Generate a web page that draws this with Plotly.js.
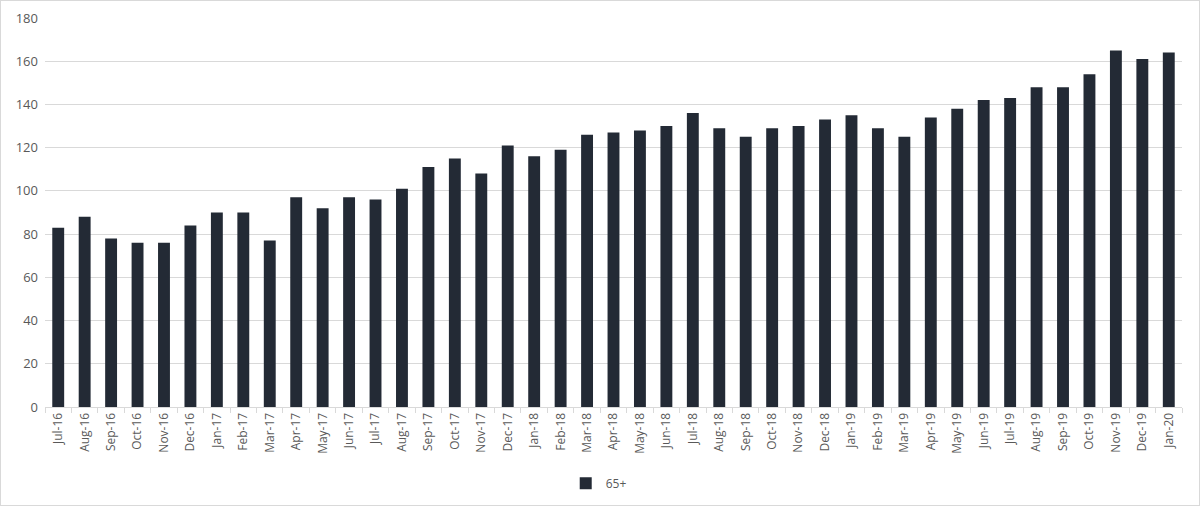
<!DOCTYPE html>
<html>
<head>
<meta charset="utf-8">
<script src="https://cdn.plot.ly/plotly-3.0.1.min.js"></script>
<style>
  html, body { margin: 0; padding: 0; background: #fff; }
  #chart { width: 1200px; height: 506px; box-sizing: border-box; border: 1px solid #d9d9d9; }
</style>
</head>
<body>
<div id="chart"></div>
<script>
const categories = ["Jul-16","Aug-16","Sep-16","Oct-16","Nov-16","Dec-16","Jan-17","Feb-17","Mar-17","Apr-17","May-17","Jun-17","Jul-17","Aug-17","Sep-17","Oct-17","Nov-17","Dec-17","Jan-18","Feb-18","Mar-18","Apr-18","May-18","Jun-18","Jul-18","Aug-18","Sep-18","Oct-18","Nov-18","Dec-18","Jan-19","Feb-19","Mar-19","Apr-19","May-19","Jun-19","Jul-19","Aug-19","Sep-19","Oct-19","Nov-19","Dec-19","Jan-20"];
const values65 = [83,88,78,76,76,84,90,90,77,97,92,97,96,101,111,115,108,121,116,119,126,127,128,130,136,129,125,129,130,133,135,129,125,134,138,142,143,148,148,154,165,161,164];
const seriesName = "65+";
const yTicks = [0,20,40,60,80,100,120,140,160,180];

const trace = {
  type: "bar",
  x: categories,
  y: values65,
  name: seriesName,
  marker: { color: "#232a35", line: { width: 0 } },
  showlegend: true,
  hoverinfo: "x+y"
};

const layout = {
  width: 1198,
  height: 504,
  margin: { l: 44, r: 17, t: 17, b: 98, autoexpand: false },
  paper_bgcolor: "#ffffff",
  plot_bgcolor: "#ffffff",
  font: { family: "Open Sans, Liberation Sans, sans-serif", color: "#595959", size: 12 },
  bargap: 0.55,
  xaxis: {
    type: "category",
    tickangle: -90,
    tickfont: { size: 12, color: "#595959" },
    showgrid: false,
    showline: true,
    linecolor: "#d9d9d9",
    linewidth: 1,
    ticks: "outside",
    tickson: "boundaries",
    ticklen: 5,
    tickcolor: "#d9d9d9",
    automargin: false
  },
  yaxis: {
    range: [0, 180],
    tickvals: yTicks,
    ticktext: yTicks.map(String),
    tickfont: { size: 13, color: "#595959" },
    showgrid: true,
    gridcolor: "#d9d9d9",
    gridwidth: 1,
    zeroline: false,
    showline: false,
    ticks: "",
    ticklabelstandoff: 6,
    automargin: false
  },
  showlegend: true,
  legend: {
    orientation: "h",
    x: 0.487, xanchor: "center",
    yref: "container",
    y: 0.043, yanchor: "middle",
    font: { size: 12, color: "#595959" },
    itemwidth: 30,
    bgcolor: "rgba(0,0,0,0)"
  }
};

Plotly.newPlot("chart", [trace], layout, { displayModeBar: false, staticPlot: true });
</script>
</body>
</html>
